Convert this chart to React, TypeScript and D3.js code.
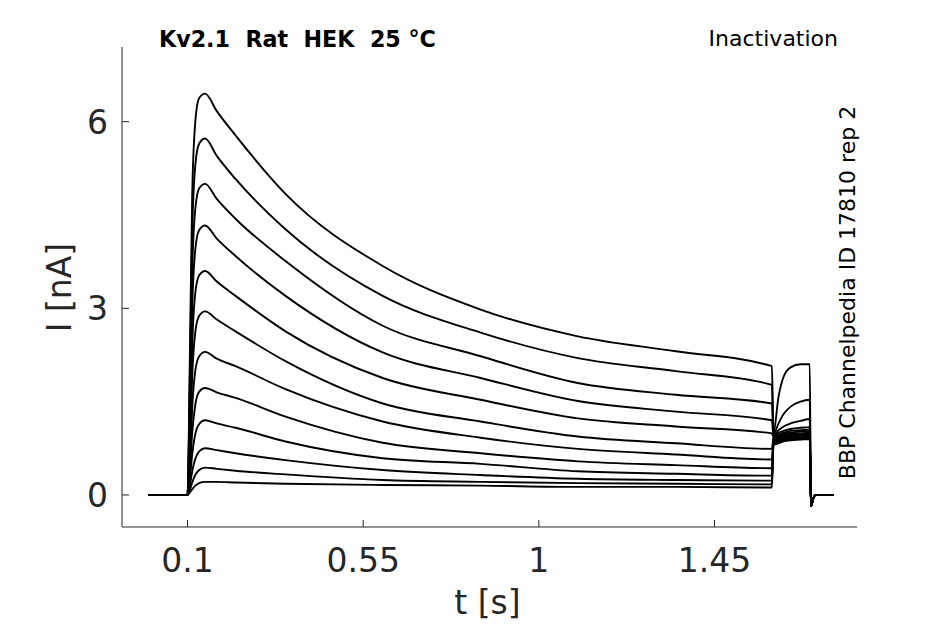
import React from 'react';
import * as d3 from 'd3';

// time points [s]
const T = [0, 0.1, 0.106, 0.112, 0.12, 0.13, 0.145, 0.175, 0.223, 0.351, 0.6, 0.851, 1.1, 1.351, 1.597, 1.601, 1.614, 1.627, 1.645, 1.67, 1.694, 1.697, 1.702, 1.708, 1.755];

// current traces [nA]
const I01 = [0, 0, 2.2, 4.8, 6.0, 6.38, 6.45, 6.17, 5.78, 4.84, 3.68, 2.98, 2.55, 2.31, 2.07, 1.0, 1.58, 1.9, 2.05, 2.1, 2.1, -0.18, -0.08, 0, 0];
const I02 = [0, 0, 1.9, 4.2, 5.3, 5.65, 5.73, 5.45, 5.08, 4.27, 3.2, 2.61, 2.2, 1.99, 1.77, 0.98, 1.15, 1.3, 1.42, 1.5, 1.53, -0.18, -0.08, 0, 0];
const I03 = [0, 0, 1.6, 3.6, 4.6, 4.93, 5.0, 4.76, 4.44, 3.76, 2.72, 2.23, 1.8, 1.61, 1.47, 0.96, 1.04, 1.1, 1.15, 1.19, 1.22, -0.18, -0.08, 0, 0];
const I04 = [0, 0, 1.3, 3.0, 3.95, 4.26, 4.33, 4.12, 3.84, 3.2, 2.29, 1.88, 1.51, 1.34, 1.2, 0.95, 1.0, 1.03, 1.06, 1.08, 1.09, -0.18, -0.08, 0, 0];
const I05 = [0, 0, 1.0, 2.4, 3.25, 3.53, 3.6, 3.43, 3.2, 2.63, 1.88, 1.53, 1.23, 1.1, 0.99, 0.93, 0.97, 1.0, 1.03, 1.04, 1.05, -0.18, -0.08, 0, 0];
const I06 = [0, 0, 0.75, 1.9, 2.62, 2.88, 2.95, 2.82, 2.63, 2.15, 1.47, 1.18, 0.94, 0.83, 0.74, 0.92, 0.95, 0.98, 1.0, 1.02, 1.02, -0.18, -0.08, 0, 0];
const I07 = [0, 0, 0.55, 1.4, 2.0, 2.23, 2.3, 2.19, 2.07, 1.7, 1.18, 0.92, 0.74, 0.65, 0.57, 0.9, 0.93, 0.96, 0.98, 0.99, 1.0, -0.18, -0.08, 0, 0];
const I08 = [0, 0, 0.38, 1.0, 1.45, 1.66, 1.72, 1.65, 1.56, 1.26, 0.84, 0.67, 0.54, 0.48, 0.43, 0.88, 0.91, 0.94, 0.96, 0.97, 0.98, -0.18, -0.08, 0, 0];
const I09 = [0, 0, 0.25, 0.65, 0.98, 1.14, 1.2, 1.15, 1.08, 0.86, 0.59, 0.5, 0.38, 0.34, 0.31, 0.86, 0.89, 0.92, 0.94, 0.95, 0.96, -0.18, -0.08, 0, 0];
const I10 = [0, 0, 0.15, 0.38, 0.58, 0.7, 0.75, 0.72, 0.67, 0.56, 0.4, 0.32, 0.26, 0.24, 0.23, 0.84, 0.87, 0.9, 0.92, 0.93, 0.94, -0.18, -0.08, 0, 0];
const I11 = [0, 0, 0.08, 0.2, 0.32, 0.4, 0.44, 0.42, 0.39, 0.33, 0.24, 0.21, 0.19, 0.18, 0.17, 0.82, 0.85, 0.88, 0.9, 0.91, 0.92, -0.18, -0.08, 0, 0];
const I12 = [0, 0, 0.04, 0.09, 0.15, 0.19, 0.21, 0.21, 0.2, 0.18, 0.16, 0.15, 0.13, 0.13, 0.12, 0.8, 0.83, 0.86, 0.88, 0.89, 0.9, -0.18, -0.08, 0, 0];

const TRACES = [I01, I02, I03, I04, I05, I06, I07, I08, I09, I10, I11, I12];

const X_TICKS = [0.1, 0.55, 1, 1.45];
const X_TICK_LABELS = ['0.1', '0.55', '1', '1.45'];
const Y_TICKS = [0, 3, 6];
const Y_TICK_LABELS = ['0', '3', '6'];

const TITLE = 'Kv2.1  Rat  HEK  25 °C';
const PROTOCOL = 'Inactivation';
const SOURCE = 'BBP Channelpedia ID 17810 rep 2';
const X_LABEL = 't [s]';
const Y_LABEL = 'I [nA]';

export default function App() {
  const W = 945;
  const H = 624;
  const left = 122, right = 857, top = 47, bottom = 527;
  const x = d3.scaleLinear().domain([-0.0678, 1.815]).range([left, right]);
  const y = d3.scaleLinear().domain([-0.515, 7.2]).range([bottom, top]);
  const line = d3
    .line<number>()
    .x((_, i) => x(T[i]))
    .y((d) => y(d))
    .curve(d3.curveMonotoneX);
  const axisColor = '#262626';
  const font = '"DejaVu Sans", sans-serif';

  return (
    <svg
      width={W}
      height={H}
      viewBox={`0 0 ${W} ${H}`}
      style={{ position: 'absolute', left: 0, top: 0, background: '#fff' }}
    >
      <rect x={0} y={0} width={W} height={H} fill="#fff" />
      {TRACES.map((tr, k) => (
        <path
          key={k}
          d={line(tr) || ''}
          fill="none"
          stroke="#000"
          strokeWidth={1.9}
          strokeLinejoin="round"
        />
      ))}
      {/* axes */}
      <line x1={left} y1={top} x2={left} y2={bottom} stroke={axisColor} strokeWidth={1} />
      <line x1={left} y1={bottom} x2={right} y2={bottom} stroke={axisColor} strokeWidth={1} />
      {Y_TICKS.map((v, i) => (
        <g key={'y' + i}>
          <line x1={left} x2={left + 7} y1={y(v)} y2={y(v)} stroke={axisColor} strokeWidth={1} />
          <text
            x={108}
            y={y(v) + 12}
            textAnchor="end"
            fontFamily={font}
            fontSize={33}
            fill={axisColor}
          >
            {Y_TICK_LABELS[i]}
          </text>
        </g>
      ))}
      {X_TICKS.map((v, i) => (
        <g key={'x' + i}>
          <line x1={x(v)} x2={x(v)} y1={bottom} y2={bottom - 7} stroke={axisColor} strokeWidth={1} />
          <text
            x={x(v)}
            y={572}
            textAnchor="middle"
            fontFamily={font}
            fontSize={33}
            fill={axisColor}
          >
            {X_TICK_LABELS[i]}
          </text>
        </g>
      ))}
      <text x={(left + right) / 2 - 2} y={614} textAnchor="middle" fontFamily={font} fontSize={33} fill={axisColor}>
        {X_LABEL}
      </text>
      <text
        transform={`translate(71, 287.5) rotate(-90)`}
        textAnchor="middle"
        fontFamily={font}
        fontSize={33}
        fill={axisColor}
      >
        {Y_LABEL}
      </text>
      <text
        x={159}
        y={47}
        fontFamily={font}
        fontWeight="bold"
        fontSize={22.2}
        fill="#000"
        style={{ whiteSpace: 'pre' }}
      >
        {TITLE}
      </text>
      <text x={838} y={46} textAnchor="end" fontFamily={font} fontSize={22} fill="#000">
        {PROTOCOL}
      </text>
      <text
        transform={`translate(855, 292.5) rotate(-90)`}
        textAnchor="middle"
        fontFamily={font}
        fontSize={22}
        fill="#000"
      >
        {SOURCE}
      </text>
    </svg>
  );
}
